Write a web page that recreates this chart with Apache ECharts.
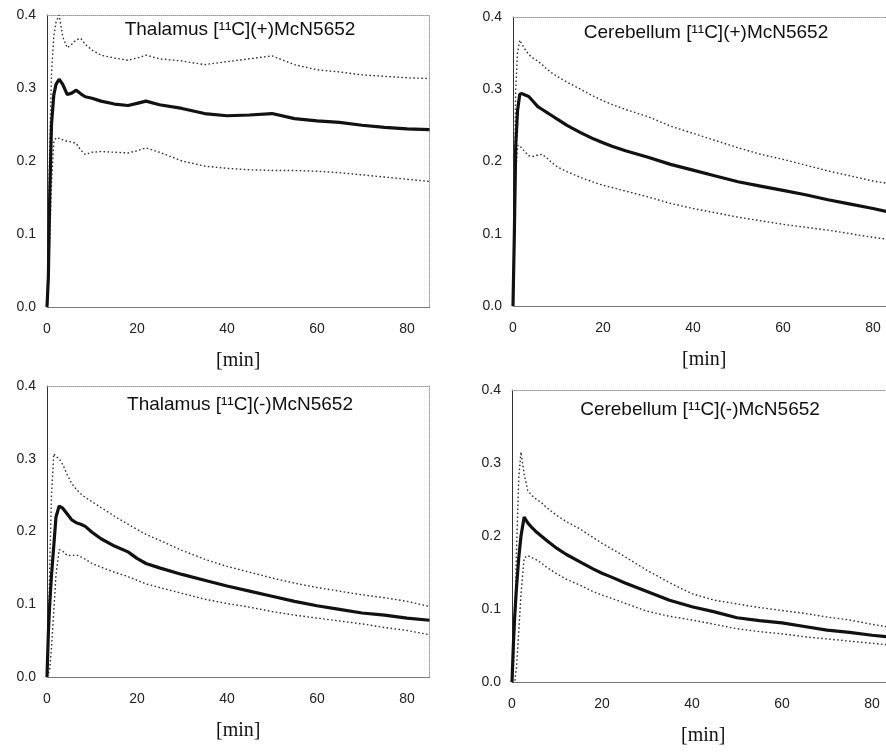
<!DOCTYPE html>
<html>
<head>
<meta charset="utf-8">
<script src="https://cdn.jsdelivr.net/npm/echarts@6/dist/echarts.min.js"></script>
<style>html,body{margin:0;padding:0;background:#fff}#c{width:886px;height:752px}</style>
</head>
<body>
<div id="c"></div>
<script>
// ---- Data (time in min) ----
const times = [0, 0.3, 0.6, 1, 1.5, 2, 2.7, 3.5, 4.5, 5.5, 6.5, 7.5, 8.5, 10, 12, 15, 18, 20, 22, 25, 30, 35, 40, 45, 50, 55, 60, 65, 70, 75, 80, 85];

const titles = ["Thalamus [¹¹C](+)McN5652", "Cerebellum [¹¹C](+)McN5652", "Thalamus [¹¹C](-)McN5652", "Cerebellum [¹¹C](-)McN5652"];
const xTicks = [0, 20, 40, 60, 80];
const yTicks = [0.0, 0.1, 0.2, 0.3, 0.4];
const xLabel = "[min]";

const thalPlusMean  = [0, 0.04, 0.15, 0.25, 0.29, 0.305, 0.312, 0.305, 0.291, 0.293, 0.297, 0.292, 0.288, 0.286, 0.282, 0.278, 0.276, 0.279, 0.282, 0.277, 0.272, 0.265, 0.262, 0.263, 0.265, 0.258, 0.255, 0.253, 0.249, 0.246, 0.244, 0.243];
const thalPlusUpper = [0, 0.08, 0.22, 0.32, 0.37, 0.39, 0.400, 0.37, 0.355, 0.36, 0.366, 0.368, 0.36, 0.352, 0.345, 0.341, 0.338, 0.341, 0.345, 0.340, 0.337, 0.332, 0.336, 0.340, 0.344, 0.332, 0.325, 0.322, 0.318, 0.316, 0.314, 0.313];
const thalPlusLower = [0, 0.03, 0.09, 0.17, 0.225, 0.232, 0.231, 0.229, 0.227, 0.226, 0.224, 0.215, 0.209, 0.212, 0.213, 0.212, 0.211, 0.214, 0.218, 0.212, 0.200, 0.193, 0.190, 0.188, 0.187, 0.187, 0.186, 0.184, 0.181, 0.178, 0.175, 0.172];

const cerePlusMean  = [0, 0.10, 0.22, 0.27, 0.293, 0.294, 0.292, 0.290, 0.283, 0.276, 0.272, 0.268, 0.264, 0.258, 0.250, 0.240, 0.231, 0.226, 0.221, 0.215, 0.206, 0.196, 0.188, 0.180, 0.172, 0.166, 0.160, 0.154, 0.147, 0.141, 0.135, 0.128];
const cerePlusUpper = [0, 0.15, 0.30, 0.35, 0.368, 0.362, 0.355, 0.348, 0.343, 0.339, 0.334, 0.328, 0.323, 0.317, 0.310, 0.300, 0.290, 0.284, 0.279, 0.272, 0.262, 0.249, 0.239, 0.229, 0.219, 0.210, 0.203, 0.195, 0.187, 0.180, 0.173, 0.168];
const cerePlusLower = [0, 0.08, 0.18, 0.222, 0.222, 0.218, 0.213, 0.208, 0.207, 0.209, 0.210, 0.205, 0.199, 0.192, 0.186, 0.178, 0.171, 0.167, 0.164, 0.159, 0.151, 0.142, 0.135, 0.129, 0.123, 0.118, 0.113, 0.109, 0.105, 0.100, 0.095, 0.091];

const thalMinusMean  = [0, 0.06, 0.10, 0.14, 0.18, 0.22, 0.235, 0.232, 0.224, 0.216, 0.212, 0.210, 0.207, 0.199, 0.190, 0.180, 0.172, 0.163, 0.156, 0.150, 0.141, 0.133, 0.125, 0.118, 0.111, 0.104, 0.098, 0.093, 0.088, 0.085, 0.081, 0.078];
const thalMinusUpper = [0, 0.05, 0.15, 0.25, 0.307, 0.303, 0.300, 0.292, 0.278, 0.266, 0.258, 0.252, 0.247, 0.241, 0.233, 0.221, 0.210, 0.203, 0.196, 0.188, 0.174, 0.162, 0.152, 0.144, 0.136, 0.129, 0.123, 0.118, 0.113, 0.109, 0.104, 0.097];
const thalMinusLower = [0, 0, 0.01, 0.04, 0.09, 0.14, 0.175, 0.173, 0.167, 0.167, 0.168, 0.165, 0.162, 0.156, 0.151, 0.144, 0.138, 0.133, 0.128, 0.123, 0.115, 0.107, 0.101, 0.096, 0.090, 0.085, 0.081, 0.077, 0.073, 0.068, 0.064, 0.058];

const cereMinusMean  = [0, 0.05, 0.09, 0.13, 0.17, 0.20, 0.226, 0.218, 0.211, 0.205, 0.200, 0.195, 0.190, 0.183, 0.175, 0.165, 0.155, 0.149, 0.144, 0.136, 0.124, 0.112, 0.103, 0.096, 0.088, 0.084, 0.081, 0.076, 0.071, 0.068, 0.064, 0.061];
const cereMinusUpper = [0, 0.02, 0.08, 0.18, 0.28, 0.315, 0.285, 0.262, 0.255, 0.250, 0.246, 0.240, 0.235, 0.228, 0.220, 0.210, 0.198, 0.190, 0.183, 0.172, 0.153, 0.136, 0.121, 0.112, 0.107, 0.102, 0.098, 0.094, 0.089, 0.085, 0.079, 0.074];
const cereMinusLower = [0, 0, 0, 0.02, 0.07, 0.12, 0.170, 0.173, 0.170, 0.167, 0.163, 0.158, 0.154, 0.148, 0.141, 0.133, 0.124, 0.119, 0.115, 0.108, 0.097, 0.090, 0.085, 0.079, 0.073, 0.069, 0.066, 0.062, 0.059, 0.056, 0.053, 0.050];

// ---- Layout ----
const panels = [
  {grid: {left: 47, top: 15, width: 382.5, height: 292}, mean: thalPlusMean, upper: thalPlusUpper, lower: thalPlusLower, tx: 240, ty: 30},
  {grid: {left: 513, top: 17, width: 382.5, height: 289}, mean: cerePlusMean, upper: cerePlusUpper, lower: cerePlusLower, tx: 706, ty: 33},
  {grid: {left: 47, top: 386, width: 382.5, height: 291}, mean: thalMinusMean, upper: thalMinusUpper, lower: thalMinusLower, tx: 240, ty: 405},
  {grid: {left: 512, top: 390, width: 382.5, height: 292}, mean: cereMinusMean, upper: cereMinusUpper, lower: cereMinusLower, tx: 700, ty: 410}
];

const pair = vals => times.map((t, i) => [t, vals[i]]);
const sans = '"Liberation Sans", Arial, sans-serif';

const grid = [], xAxis = [], yAxis = [], series = [], graphic = [];
panels.forEach((p, i) => {
  grid.push(Object.assign({containLabel: false, outerBoundsMode: 'none'}, p.grid));
  xAxis.push({
    type: 'value', gridIndex: i, min: 0, max: 85, interval: 20,
    axisLine: {show: true, lineStyle: {color: '#777', width: 1}},
    axisTick: {show: false}, splitLine: {show: false},
    axisLabel: {color: '#222', fontSize: 14, fontFamily: sans, margin: 15,
      customValues: xTicks, formatter: v => String(v)},
    name: xLabel, nameLocation: 'middle', nameGap: 44,
    nameTextStyle: {fontFamily: '"Liberation Serif", "Times New Roman", serif', fontSize: 20, color: '#111'}
  });
  xAxis.push({
    type: 'value', gridIndex: i, min: 0, max: 85, position: 'top',
    axisLine: {show: true, onZero: false, lineStyle: {color: '#999', width: 1, type: 'dotted'}},
    axisTick: {show: false}, axisLabel: {show: false}, splitLine: {show: false}
  });
  yAxis.push({
    type: 'value', gridIndex: i, min: 0, max: 0.4, interval: 0.1,
    axisLine: {show: true, onZero: false, lineStyle: {color: '#333', width: 1}},
    axisTick: {show: false}, splitLine: {show: false},
    axisLabel: {color: '#222', fontSize: 14, fontFamily: sans, margin: 11,
      customValues: yTicks, formatter: v => v.toFixed(1)}
  });
  yAxis.push({
    type: 'value', gridIndex: i, min: 0, max: 0.4, position: 'right',
    axisLine: {show: true, onZero: false, lineStyle: {color: '#999', width: 1, type: 'dotted'}},
    axisTick: {show: false}, axisLabel: {show: false}, splitLine: {show: false}
  });
  const xi = i * 2, yi = i * 2;
  series.push({type: 'line', xAxisIndex: xi, yAxisIndex: yi, data: pair(p.upper), showSymbol: false,
    lineStyle: {color: '#333', width: 1.4, type: [1.6, 2.4]}, z: 3});
  series.push({type: 'line', xAxisIndex: xi, yAxisIndex: yi, data: pair(p.lower), showSymbol: false,
    lineStyle: {color: '#333', width: 1.4, type: [1.6, 2.4]}, z: 3});
  series.push({type: 'line', xAxisIndex: xi, yAxisIndex: yi, data: pair(p.mean), showSymbol: false,
    lineStyle: {color: '#111', width: 3.2}, z: 4});
  graphic.push({type: 'text', x: p.tx, y: p.ty, z: 10,
    style: {text: titles[i], font: '19px ' + sans, fill: '#111', align: 'center', verticalAlign: 'middle',
      textAlign: 'center', textVerticalAlign: 'middle'}});
});

const chart = echarts.init(document.getElementById('c'), null, {renderer: 'canvas'});
chart.setOption({
  animation: false,
  backgroundColor: '#fff',
  grid, xAxis, yAxis, series, graphic
});
</script>
</body>
</html>
